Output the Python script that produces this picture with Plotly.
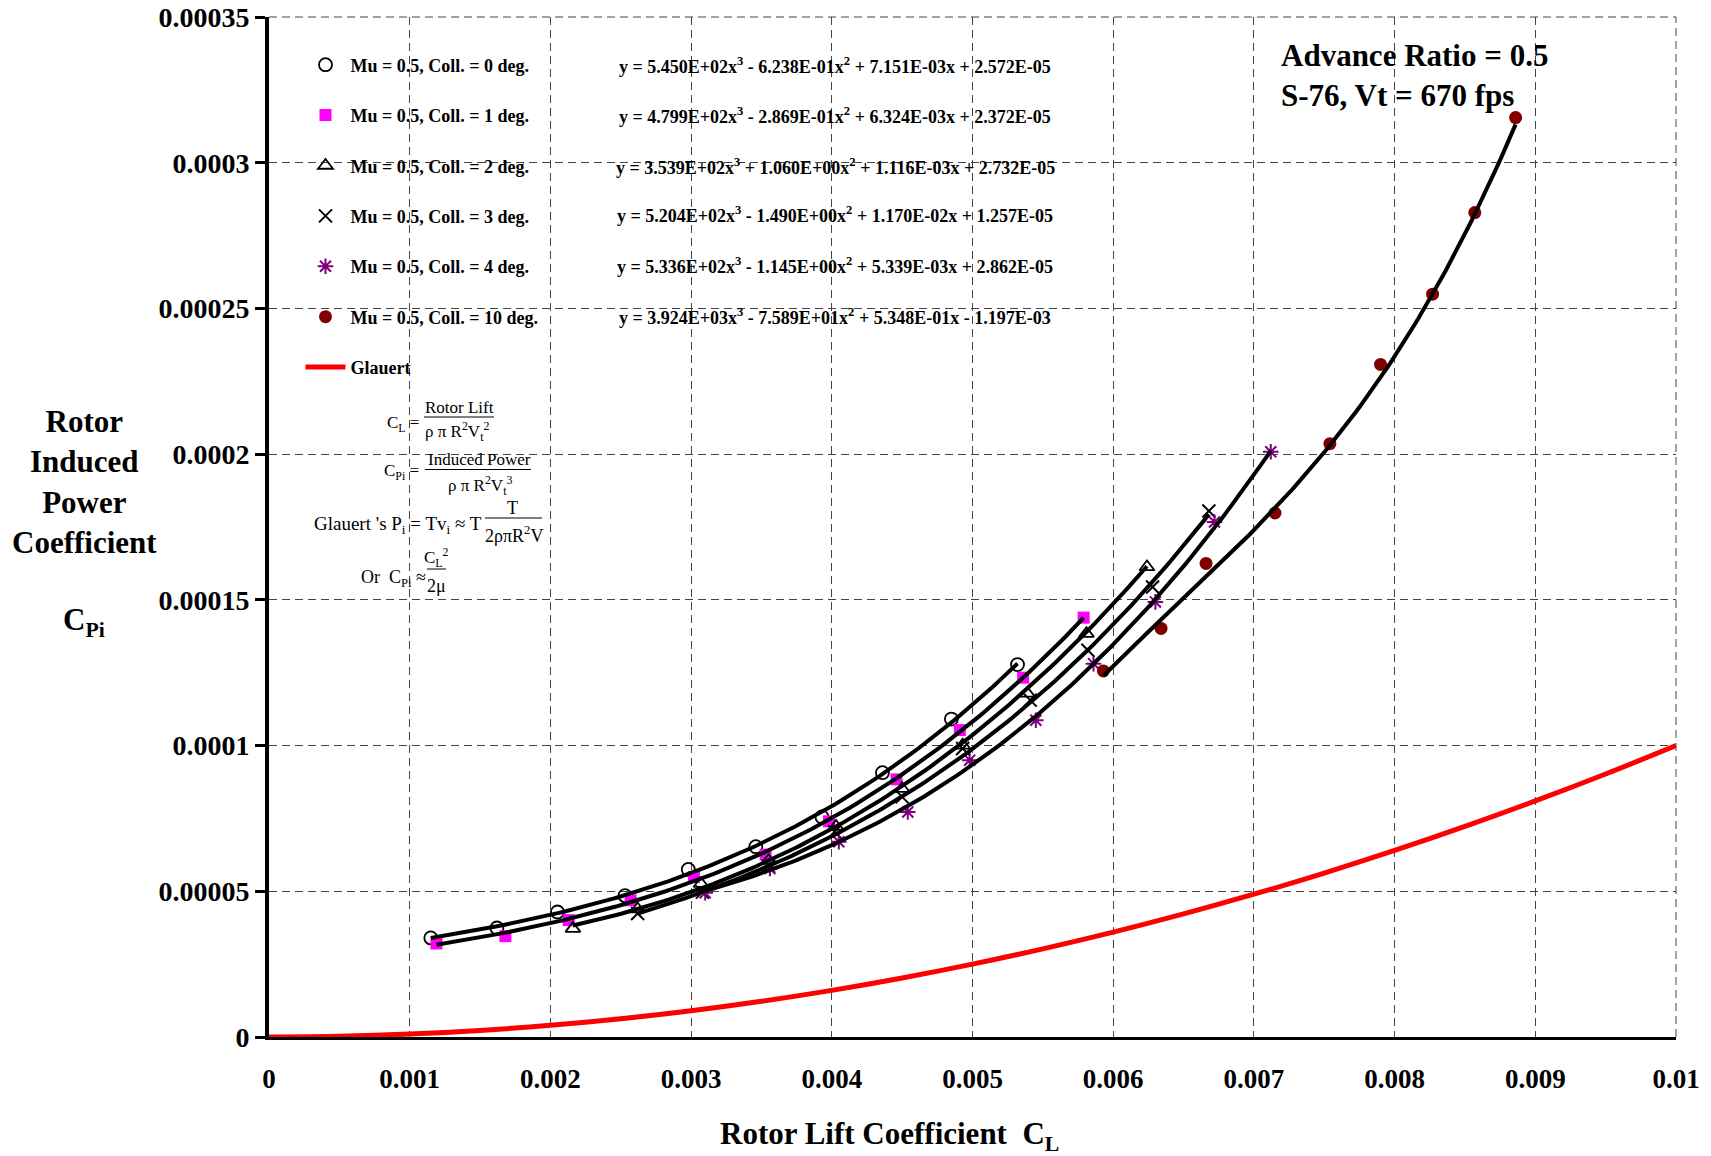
import numpy as np
import plotly.graph_objects as go

FONT = "Liberation Serif"

# ---------------- data ----------------
cl_tick_vals = [0, 0.001, 0.002, 0.003, 0.004, 0.005, 0.006, 0.007, 0.008, 0.009, 0.01]
cl_tick_text = ["0", "0.001", "0.002", "0.003", "0.004", "0.005", "0.006", "0.007", "0.008", "0.009", "0.01"]
cpi_tick_vals = [0, 0.00005, 0.0001, 0.00015, 0.0002, 0.00025, 0.0003, 0.00035]
cpi_tick_text = ["0", "0.00005", "0.0001", "0.00015", "0.0002", "0.00025", "0.0003", "0.00035"]

series_names = [
    "Mu = 0.5, Coll. = 0 deg.",
    "Mu = 0.5, Coll. = 1 deg.",
    "Mu = 0.5, Coll. = 2 deg.",
    "Mu = 0.5, Coll. = 3 deg.",
    "Mu = 0.5, Coll. = 4 deg.",
    "Mu = 0.5, Coll. = 10 deg.",
]

coll0_cl = [0.00115, 0.00162, 0.00205, 0.00253, 0.00298, 0.00346, 0.00393, 0.00436, 0.00485, 0.00532]
coll0_cpi = [3.40e-5, 3.74e-5, 4.29e-5, 4.85e-5, 5.75e-5, 6.53e-5, 7.55e-5, 9.07e-5, 1.091e-4, 1.278e-4]

coll1_cl = [0.00119, 0.00168, 0.00213, 0.00257, 0.00302, 0.00353, 0.00398, 0.00446, 0.00491, 0.00536, 0.00579]
coll1_cpi = [3.21e-5, 3.46e-5, 4.01e-5, 4.69e-5, 5.49e-5, 6.26e-5, 7.40e-5, 8.84e-5, 1.053e-4, 1.233e-4, 1.439e-4]

coll2_cl = [0.00216, 0.00262, 0.00307, 0.00355, 0.00403, 0.00450, 0.00493, 0.00539, 0.00581, 0.00624]
coll2_cpi = [3.72e-5, 4.39e-5, 5.26e-5, 6.05e-5, 7.22e-5, 8.52e-5, 1.001e-4, 1.179e-4, 1.384e-4, 1.613e-4]

coll3_cl = [0.00262, 0.00308, 0.00355, 0.00402, 0.00450, 0.00493, 0.00541, 0.00582, 0.00628, 0.00668]
coll3_cpi = [4.24e-5, 4.97e-5, 5.86e-5, 7.04e-5, 8.24e-5, 9.90e-5, 1.156e-4, 1.327e-4, 1.544e-4, 1.805e-4]

coll4_cl = [0.00310, 0.00356, 0.00405, 0.00454, 0.00498, 0.00545, 0.00586, 0.00630, 0.00672, 0.00712]
coll4_cpi = [4.95e-5, 5.78e-5, 6.70e-5, 7.72e-5, 9.50e-5, 1.087e-4, 1.281e-4, 1.493e-4, 1.767e-4, 2.008e-4]

coll10_cl = [0.00593, 0.00634, 0.00666, 0.00715, 0.00754, 0.00790, 0.00827, 0.00857, 0.00886]
coll10_cpi = [1.256e-4, 1.402e-4, 1.625e-4, 1.798e-4, 2.036e-4, 2.308e-4, 2.549e-4, 2.829e-4, 3.155e-4]

# cubic trendline coefficients as printed on the chart (x^3, x^2, x, const)
coll0_fit = [5.450E+02, -6.238E-01, 7.151E-03, 2.572E-05]
coll1_fit = [4.799E+02, -2.869E-01, 6.324E-03, 2.372E-05]
coll2_fit = [3.539E+02, 1.060E+00, 1.116E-03, 2.732E-05]
coll3_fit = [5.204E+02, -1.490E+00, 1.170E-02, 1.257E-05]
coll4_fit = [5.336E+02, -1.145E+00, 5.339E-03, 2.862E-05]
coll10_fit = [3.924E+03, -7.589E+01, 5.348E-01, -1.197E-03]

fit_labels = [
    "y = 5.450E+02x<sup>3</sup> - 6.238E-01x<sup>2</sup> + 7.151E-03x + 2.572E-05",
    "y = 4.799E+02x<sup>3</sup> - 2.869E-01x<sup>2</sup> + 6.324E-03x + 2.372E-05",
    "y = 3.539E+02x<sup>3</sup> + 1.060E+00x<sup>2</sup> + 1.116E-03x + 2.732E-05",
    "y = 5.204E+02x<sup>3</sup> - 1.490E+00x<sup>2</sup> + 1.170E-02x + 1.257E-05",
    "y = 5.336E+02x<sup>3</sup> - 1.145E+00x<sup>2</sup> + 5.339E-03x + 2.862E-05",
    "y = 3.924E+03x<sup>3</sup> - 7.589E+01x<sup>2</sup> + 5.348E-01x - 1.197E-03",
]

glauert_cl = [0, 0.0005, 0.001, 0.0015, 0.002, 0.0025, 0.003, 0.0035, 0.004, 0.0045, 0.005,
              0.0055, 0.006, 0.0065, 0.007, 0.0075, 0.008, 0.0085, 0.009, 0.0095, 0.01]
glauert_cpi = [0, 2.5e-7, 1.0e-6, 2.25e-6, 4.0e-6, 6.25e-6, 9.0e-6, 1.225e-5, 1.6e-5, 2.025e-5, 2.5e-5,
               3.025e-5, 3.6e-5, 4.225e-5, 4.9e-5, 5.625e-5, 6.4e-5, 7.225e-5, 8.1e-5, 9.025e-5, 1.0e-4]

# ---------------- layout geometry (screen pixels) ----------------
W, H = 1711, 1156
ML, MR, MT, MB = 269, 35, 17, 119  # plot-area margins
PW, PH = W - ML - MR, H - MT - MB


def px2x(px):
    return (px - ML) / PW


def py2y(py):
    return (H - MB - py) / PH


marker_styles = [
    dict(symbol="circle-open", color="black", size=13, line=dict(width=1.8, color="black")),
    dict(symbol="square", color="#FF00FF", size=12),
    dict(symbol="triangle-up-open", color="black", size=13, line=dict(width=1.8, color="black")),
    dict(symbol="x-thin-open", color="black", size=13, line=dict(width=2, color="black")),
    dict(symbol="asterisk-open", color="#800080", size=13, line=dict(width=2, color="#800080")),
    dict(symbol="circle", color="#800000", size=13),
]

all_cl = [coll0_cl, coll1_cl, coll2_cl, coll3_cl, coll4_cl, coll10_cl]
all_cpi = [coll0_cpi, coll1_cpi, coll2_cpi, coll3_cpi, coll4_cpi, coll10_cpi]
all_fit = [coll0_fit, coll1_fit, coll2_fit, coll3_fit, coll4_fit, coll10_fit]

fig = go.Figure()

# Glauert theory
fig.add_trace(go.Scatter(
    x=glauert_cl, y=glauert_cpi, mode="lines", line=dict(color="#FF0000", width=5, shape="spline"),
    name="Glauert", legendgroup="g7", legendrank=7, showlegend=True,
))

# data markers
for i, (xs, ys) in enumerate(zip(all_cl, all_cpi)):
    fig.add_trace(go.Scatter(
        x=xs, y=ys, mode="markers", marker=marker_styles[i], name=series_names[i],
        legendgroup=f"g{i}", legendrank=i + 1,
    ))

# trendlines (drawn on top like the original)
for i, (xs, coef) in enumerate(zip(all_cl, all_fit)):
    xf = np.linspace(min(xs), max(xs), 120)
    yf = np.polyval(coef, xf)
    fig.add_trace(go.Scatter(
        x=xf, y=yf, mode="lines", line=dict(color="black", width=4), showlegend=False, hoverinfo="skip",
    ))

annotations = []
shapes = []


def ann(text, px, py, size=17, xanchor="center", bold=False, yanchor="middle", align="center"):
    annotations.append(dict(
        text=text, x=px2x(px), y=py2y(py), xref="paper", yref="paper", showarrow=False,
        xanchor=xanchor, yanchor=yanchor, align=align,
        font=dict(family=FONT, size=size, color="black", weight="bold" if bold else "normal"),
    ))


def bar(x0, x1, py):
    shapes.append(dict(type="line", xref="paper", yref="paper", x0=px2x(x0), x1=px2x(x1),
                       y0=py2y(py), y1=py2y(py), line=dict(color="black", width=1)))


# dashed grid lines on the right and top edges of the plot area
GRID = dict(color="#444444", width=1, dash="8px,5px")
shapes.append(dict(type="line", xref="paper", yref="paper", x0=1, x1=1, y0=0, y1=1, line=GRID, layer="below"))
shapes.append(dict(type="line", xref="paper", yref="paper", x0=0, x1=1, y0=1, y1=1, line=GRID, layer="below"))

# trendline equations
eq_rows = [65.5, 115.7, 166, 215, 265, 316.5]
for lbl, r in zip(fit_labels, eq_rows):
    ann(lbl, 835, r, size=18, bold=True)

# title block top right
ann("Advance Ratio = 0.5<br>S-76, Vt = 670 fps", 1279, 75, size=31, xanchor="left", bold=True, align="left")

# axis titles
ann("Rotor<br>Induced<br>Power<br>Coefficient", 84, 482, size=31, bold=True)
ann("C<sub>Pi</sub>", 84, 622, size=31, bold=True)
ann("Rotor Lift Coefficient\u00a0\u00a0C<sub>L</sub>", 889, 1136, size=31, bold=True)

# formula block
ann("C<sub>L</sub> =", 421, 424, xanchor="right")
ann("Rotor Lift", 459, 408)
bar(424, 494, 417)
ann("\u03c1 \u03c0 R<sup>2</sup>V<sub>t</sub><sup>2</sup>", 457, 431)

ann("C<sub>Pi</sub> =", 421, 472, xanchor="right")
ann("Induced Power", 479, 459)
bar(425, 531, 469.5)
ann("\u03c1 \u03c0 R<sup>2</sup>V<sub>t</sub><sup>3</sup>", 480, 485)

ann("Glauert 's P<sub>i</sub> = Tv<sub>i</sub> \u2248 T", 484, 525, size=19, xanchor="right")
ann("T", 512, 508, size=18)
bar(485, 542, 518)
ann("2\u03c1\u03c0R<sup>2</sup>V", 514, 534, size=18)

ann("Or\u00a0\u00a0C<sub>Pi</sub> \u2248", 428, 578, size=18, xanchor="right")
ann("C<sub>L</sub><sup>2</sup>", 436, 557)
bar(427, 446, 569)
ann("2\u03bc", 436, 586, size=18)

fig.update_layout(
    width=W, height=H,
    margin=dict(l=ML, r=MR, t=MT, b=MB, pad=0, autoexpand=False),
    plot_bgcolor="white", paper_bgcolor="white",
    font=dict(family=FONT, color="black"),
    annotations=annotations, shapes=shapes,
    showlegend=True,
    legend=dict(
        x=px2x(300.5), y=py2y(46.5), xanchor="left", yanchor="top",
        bgcolor="rgba(0,0,0,0)", borderwidth=0, itemwidth=40,
        font=dict(family=FONT, size=18, color="black", weight="bold"),
        tracegroupgap=24, traceorder="grouped",
    ),
    xaxis=dict(
        range=[0, 0.01], tickmode="array", tickvals=cl_tick_vals, ticktext=cl_tick_text,
        showgrid=True, gridcolor="#444444", gridwidth=1, griddash="8px,5px",
        showline=True, linecolor="black", linewidth=3, zeroline=False, ticks="",
        tickfont=dict(family=FONT, size=27, color="black", weight="bold"),
        ticklabelstandoff=16, automargin=False,
    ),
    yaxis=dict(
        range=[0, 0.00035], tickmode="array", tickvals=cpi_tick_vals, ticktext=cpi_tick_text,
        showgrid=True, gridcolor="#444444", gridwidth=1, griddash="8px,5px",
        showline=True, linecolor="black", linewidth=4, zeroline=False,
        ticks="outside", ticklen=10, tickwidth=3, tickcolor="black",
        tickfont=dict(family=FONT, size=28, color="black", weight="bold"),
        ticklabelstandoff=0, automargin=False, ticklabeloverflow="allow",
    ),
)

# remove the default page margin so the figure fills the window exactly
fig.write_html(
    "out.html",
    config={"displayModeBar": False},
    post_script="document.body.style.margin='0';",
)
